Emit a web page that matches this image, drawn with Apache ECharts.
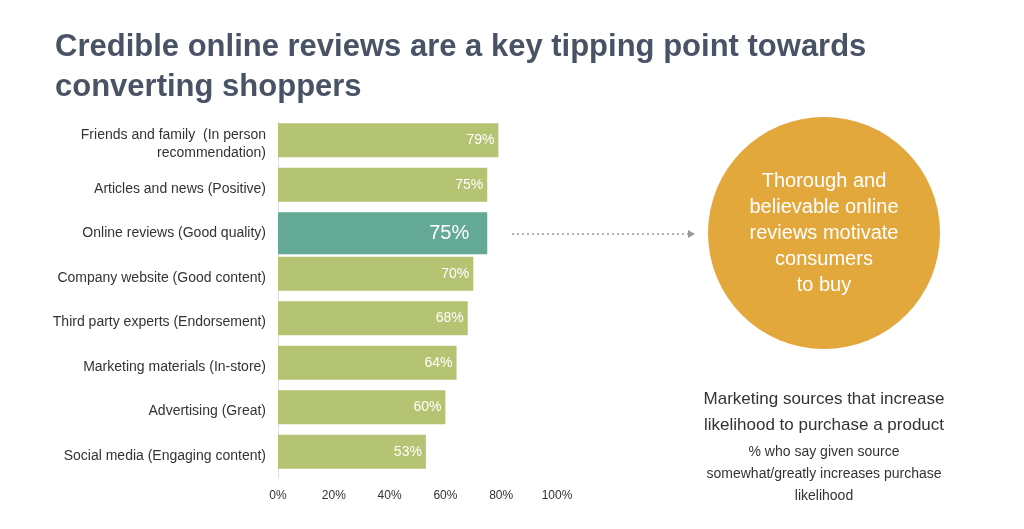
<!DOCTYPE html>
<html><head><meta charset="utf-8">
<script src="https://cdn.jsdelivr.net/npm/echarts@6/dist/echarts.min.js"></script>
<style>html,body{margin:0;padding:0;background:#fff}#c{width:1024px;height:529px}</style>
</head><body><div id="c"></div>
<script>
const categories = ["Friends and family  (In person\nrecommendation)","Articles and news (Positive)","Online reviews (Good quality)","Company website (Good content)","Third party experts (Endorsement)","Marketing materials (In-store)","Advertising (Great)","Social media (Engaging content)"];
const values = [79,75,75,70,68,64,60,53];
const highlightIndex = 2;
const tickLabels = ["0%","20%","40%","60%","80%","100%"];
const chart = echarts.init(document.getElementById('c'));
const ff = 'Liberation Sans, Arial, sans-serif';
chart.setOption({
  animation:false,
  title:{text:'Credible online reviews are a key tipping point towards\nconverting shoppers',left:50,top:22,textStyle:{fontFamily:ff,fontSize:31,fontWeight:'bold',color:'#4a5366',lineHeight:40}},
  grid:{left:278,right:467,top:122,bottom:51},
  xAxis:{type:'value',min:0,max:100,interval:20,splitLine:{show:false},axisLine:{show:false},axisTick:{show:false},
    axisLabel:{formatter:v=>tickLabels[v/20],fontFamily:ff,fontSize:12,color:'#333',margin:12}},
  yAxis:{type:'category',inverse:true,data:categories,axisLine:{show:true,lineStyle:{color:'#ddd'}},axisTick:{show:false},
    axisLabel:{fontFamily:ff,fontSize:14,color:'#333',margin:12,lineHeight:18}},
  series:[
    {type:'bar',barWidth:34,data:values.map((v,i)=>i===highlightIndex?null:v),itemStyle:{color:'#b5c473'},
     label:{show:true,position:'insideRight',formatter:'{c}%',color:'#fff',fontFamily:ff,fontSize:14,distance:4}},
    {type:'bar',barWidth:42,barGap:'-100%',data:values.map((v,i)=>i===highlightIndex?v:null),itemStyle:{color:'#63a995'},
     label:{show:true,position:'insideRight',formatter:'{c}%',color:'#fff',fontFamily:ff,fontSize:20,distance:18}}
  ],
  graphic:[
    {type:'line',shape:{x1:512,y1:234,x2:688,y2:234},style:{stroke:'#999',lineWidth:1.5,lineDash:[2,3]}},
    {type:'polygon',shape:{points:[[688,230],[695,234],[688,238]]},style:{fill:'#999'}},
    {type:'circle',shape:{cx:824,cy:233,r:116},style:{fill:'#e3a83c'}},
    {type:'text',x:824,y:233,style:{text:'Thorough and\nbelievable online\nreviews motivate\nconsumers\nto buy',align:'center',verticalAlign:'middle',fill:'#fff',font:'20px '+ff,lineHeight:26}},
    {type:'text',x:824,y:412,style:{text:'Marketing sources that increase\nlikelihood to purchase a product',align:'center',verticalAlign:'middle',fill:'#333',font:'17px '+ff,lineHeight:26}},
    {type:'text',x:824,y:474,style:{text:'% who say given source\nsomewhat/greatly increases purchase\nlikelihood',align:'center',verticalAlign:'middle',fill:'#333',font:'14px '+ff,lineHeight:22}}
  ]
});
</script></body></html>
